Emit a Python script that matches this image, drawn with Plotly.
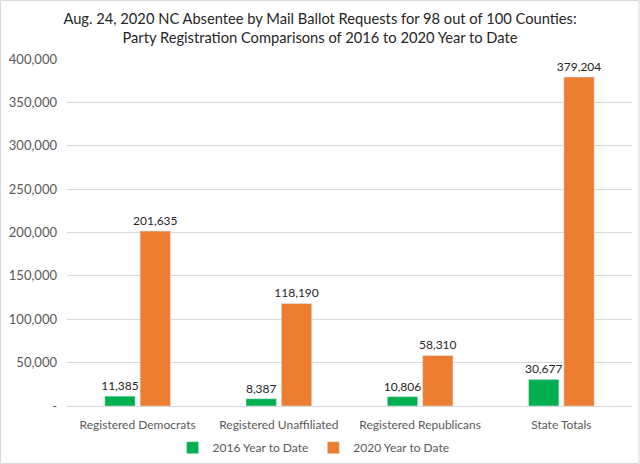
import plotly.graph_objects as go

categories = ["Registered Democrats", "Registered Unaffiliated",
              "Registered Republicans", "State Totals"]
ytd_2016 = [11385, 8387, 10806, 30677]
ytd_2020 = [201635, 118190, 58310, 379204]
tick_vals = [0, 50000, 100000, 150000, 200000, 250000, 300000, 350000, 400000]
tick_text = ["-"] + [f"{v:,}" for v in tick_vals[1:]]

font = "Lato, Calibri, Carlito, sans-serif"

fig = go.Figure()
fig.add_bar(x=categories, y=ytd_2016, name="2016 Year to Date",
            marker_color="#00B050",
            text=[f"{v:,}" for v in ytd_2016], textposition="outside")
fig.add_bar(x=categories, y=ytd_2020, name="2020 Year to Date",
            marker_color="#ED7D31",
            text=[f"{v:,}" for v in ytd_2020], textposition="outside")
fig.update_traces(textfont=dict(size=12, color="#262626"), cliponaxis=False,
                  constraintext="none")

fig.update_layout(
    width=640, height=464,
    margin=dict(l=67, r=8, t=59, b=58, autoexpand=False),
    paper_bgcolor="white", plot_bgcolor="white",
    font=dict(family=font, size=12, color="#595959"),
    title=dict(text="Aug. 24, 2020 NC Absentee by Mail Ballot Requests for 98 out of 100 Counties:"
                    "<br>Party Registration Comparisons of 2016 to 2020 Year to Date",
               x=0.5, xanchor="center", y=0.9486, yanchor="middle",
               font=dict(size=14.7, color="#262626", family=font)),
    barmode="group", bargap=0.5, bargroupgap=0.14,
    showlegend=True,
    legend=dict(orientation="h", xref="container", x=0.49, xanchor="center",
                yref="container", y=0.004, yanchor="bottom",
                itemwidth=30, font=dict(size=12, color="#595959")),
    xaxis=dict(showline=True, linecolor="#D9D9D9", ticks="",
               ticklabelstandoff=8,
               tickfont=dict(size=12, color="#595959")),
    yaxis=dict(range=[0, 400000], tickvals=tick_vals, ticktext=tick_text,
               showgrid=True, gridcolor="#D9D9D9", zeroline=False,
               ticklabelstandoff=9,
               tickfont=dict(size=13, color="#595959")),
    shapes=[dict(type="rect", xref="paper", yref="paper",
                 x0=-66.5 / 565, x1=1 + 7 / 565, y0=-57.5 / 347, y1=1 + 58.5 / 347,
                 line=dict(color="#D9D9D9", width=1))],
)

# the page has a default 8px body margin; drop it so the figure fills the window
fig.write_html("out.html", config={"displayModeBar": False},
               post_script="document.body.style.margin = '0px';")
